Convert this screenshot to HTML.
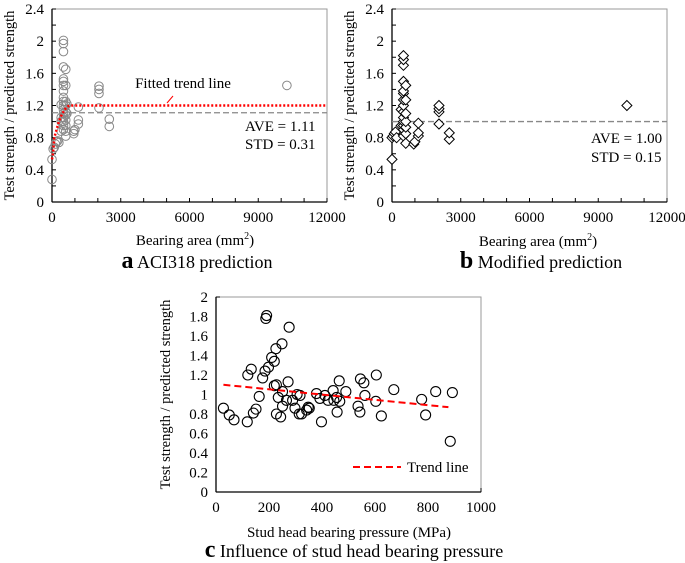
<!DOCTYPE html>
<html><head><meta charset="utf-8"><style>
body{margin:0;background:#fff;}
svg{display:block;font-family:"Liberation Serif",serif;}
</style></head><body>
<svg id="fig" width="685" height="563" viewBox="0 0 685 563" xmlns="http://www.w3.org/2000/svg"></svg>
<script>
// Chart a data (bearing area mm2, ratio)
const aX=[0,0,50,100,150,200,250,300,400,400,400,400,500,500,500,500,500,500,500,500,500,500,500,500,500,500,500,500,500,600,600,600,600,600,600,600,600,600,600,650,650,950,950,1000,1150,1150,1150,2050,2050,2050,2050,2500,2500,10250];
const aY=[0.28,0.53,0.66,0.68,0.72,0.75,0.76,0.74,0.88,1.0,1.05,1.21,0.9,0.95,1.0,1.05,1.1,1.15,1.2,1.25,1.3,1.38,1.45,1.5,1.53,1.68,1.87,1.97,2.01,0.82,0.88,0.95,1.02,1.08,1.12,1.2,1.25,1.45,1.65,1.1,1.22,0.85,0.88,0.9,0.97,1.02,1.18,1.17,1.35,1.4,1.44,0.94,1.03,1.45];
const fitX=[0,50,100,200,300,400,550,700,800,12000];
const fitY=[0.53,0.62,0.8,0.9,1.0,1.07,1.15,1.19,1.2,1.2];
const aAve=1.11;
// Chart b data
const bX=[0,0,50,100,150,200,400,400,500,500,500,500,500,500,500,500,500,500,500,500,500,500,600,600,600,600,600,600,600,950,1000,1150,1150,1150,2050,2050,2050,2050,2500,2500,10250];
const bY=[0.53,0.8,0.82,0.85,0.87,0.8,0.95,1.15,0.82,0.9,0.95,1.0,1.05,1.12,1.2,1.27,1.35,1.38,1.5,1.7,1.77,1.82,0.73,0.85,0.93,1.0,1.1,1.27,1.45,0.72,0.75,0.82,0.86,0.98,0.97,1.12,1.16,1.2,0.78,0.86,1.2];
const bAve=1.0;
// Chart c data (bearing pressure MPa, ratio)
const cX=[28,50,68,118,120,133,141,151,163,176,185,188,191,198,210,220,226,220,228,228,235,244,249,251,251,266,272,276,289,298,306,314,317,323,342,348,352,379,392,398,411,423,442,445,455,457,465,467,490,536,543,545,558,562,605,603,624,671,776,791,829,884,892];
const cY=[0.86,0.79,0.74,0.72,1.2,1.26,0.81,0.85,0.98,1.17,1.24,1.78,1.81,1.28,1.38,1.34,1.47,1.09,1.1,0.8,0.97,0.77,1.52,1.03,0.88,0.94,1.13,1.69,0.94,0.86,1.0,0.8,0.99,0.8,0.84,0.87,0.86,1.01,0.96,0.72,0.99,0.94,1.04,0.94,0.97,0.82,1.14,0.93,1.03,0.88,0.82,1.16,1.12,0.99,1.2,0.93,0.78,1.05,0.95,0.79,1.03,0.52,1.02];
const trendX=[28,877];
const trendY=[1.10,0.87];
const xTicksAB=[0,3000,6000,9000,12000];
const yTicksAB=[0,0.4,0.8,1.2,1.6,2,2.4];
const xTicksC=[0,200,400,600,800,1000];
const yTicksC=[0,0.2,0.4,0.6,0.8,1,1.2,1.4,1.6,1.8,2];

const NS="http://www.w3.org/2000/svg";
const svg=document.getElementById('fig');
function mk(tag,attrs,parent,txt){const e=document.createElementNS(NS,tag);for(const k in attrs)e.setAttribute(k,attrs[k]);if(txt!==undefined)e.textContent=txt;(parent||svg).appendChild(e);return e;}

function chart(cfg){
  const g=mk('g',{});
  
  
  const sx=v=>cfg.x0+(v-cfg.xmin)/(cfg.xmax-cfg.xmin)*(cfg.x1-cfg.x0);
  const sy=v=>cfg.y0-(v-cfg.ymin)/(cfg.ymax-cfg.ymin)*(cfg.y0-cfg.y1);
  cfg.sx=sx;cfg.sy=sy;
  const fr=mk('rect',{x:cfg.x0,y:cfg.y1,width:cfg.x1-cfg.x0,height:cfg.y0-cfg.y1,fill:'none',stroke:'#999','stroke-width':1},g);
  
  mk('line',{x1:cfg.x0,y1:cfg.y0,x2:cfg.x1,y2:cfg.y0,stroke:'#000','stroke-width':1.3},g);
  mk('line',{x1:cfg.x0,y1:cfg.y0,x2:cfg.x0,y2:cfg.y1,stroke:'#000','stroke-width':1.3},g);
  for(let v=cfg.xmin;v<=cfg.xmax+1e-9;v+=cfg.xminor) mk('line',{x1:sx(v),y1:cfg.y0,x2:sx(v),y2:cfg.y0-4,stroke:'#000'},g);
  for(let v=cfg.ymin;v<=cfg.ymax+1e-9;v+=cfg.yminor) mk('line',{x1:cfg.x0,y1:sy(v),x2:cfg.x0+4,y2:sy(v),stroke:'#000'},g);
  cfg.xt.forEach(v=>{const t=mk('text',{x:sx(v),y:cfg.y0+20,'text-anchor':'middle','font-size':15},g,String(v));});
  cfg.yt.forEach(v=>{const t=mk('text',{x:cfg.x0-8,y:sy(v)+5,'text-anchor':'end','font-size':15},g,String(v));});
  const yt=mk('text',{x:0,y:0,transform:`translate(${cfg.ytx},${(cfg.y0+cfg.y1)/2}) rotate(-90)`,'text-anchor':'middle','font-size':14.5},g,'Test strength / predicted strength');
  
  return g;
}

// Chart A
const A={name:'chart-a',x0:52,x1:327,y0:202,y1:9,xmin:0,xmax:12000,ymin:0,ymax:2.4,xminor:1000,yminor:0.2,xt:xTicksAB,yt:yTicksAB,ytx:14};
const ga=chart(A);
let l=mk('line',{x1:A.sx(0),y1:A.sy(aAve),x2:A.x1,y2:A.sy(aAve),stroke:'#888','stroke-width':1.3,'stroke-dasharray':'6,3'},ga);

aX.forEach((x,i)=>{const c=mk('circle',{cx:A.sx(x),cy:A.sy(aY[i]),r:4.3,fill:'none',stroke:'#888','stroke-width':1},ga);

});
const fp=mk('polyline',{points:fitX.map((x,i)=>A.sx(x)+','+A.sy(fitY[i])).join(' '),fill:'none',stroke:'#f00','stroke-width':2.5,'stroke-dasharray':'2,2'},ga);

mk('line',{x1:173,y1:96,x2:167,y2:103,stroke:'#f00','stroke-width':1},ga);
let t=mk('text',{x:183,y:88,'text-anchor':'middle','font-size':15},ga,'Fitted trend line');
t=mk('text',{x:245,y:131,'font-size':15},ga,'AVE = 1.11');
t=mk('text',{x:245,y:149,'font-size':15},ga,'STD = 0.31');
t=mk('text',{x:195,y:245,'text-anchor':'middle','font-size':15},ga);t.innerHTML='Bearing area (mm<tspan font-size="10" dy="-6">2</tspan><tspan dy="6">)</tspan>';
t=mk('text',{x:197,y:268,'text-anchor':'middle','font-size':18},ga);t.innerHTML='<tspan font-weight="bold" font-size="24">a</tspan> ACI318 prediction';

// Chart B
const B={name:'chart-b',x0:392,x1:667,y0:202,y1:9,xmin:0,xmax:12000,ymin:0,ymax:2.4,xminor:1000,yminor:0.2,xt:xTicksAB,yt:yTicksAB,ytx:354};
const gb=chart(B);
l=mk('line',{x1:B.sx(0),y1:B.sy(bAve),x2:B.x1,y2:B.sy(bAve),stroke:'#888','stroke-width':1.3,'stroke-dasharray':'6,3'},gb);

bX.forEach((x,i)=>{const cx=B.sx(x),cy=B.sy(bY[i]);const d=mk('polygon',{points:`${cx},${cy-5} ${cx+5},${cy} ${cx},${cy+5} ${cx-5},${cy}`,fill:'#fff',stroke:'#000','stroke-width':1},gb);

});
t=mk('text',{x:591,y:143,'font-size':15},gb,'AVE = 1.00');
t=mk('text',{x:591,y:162,'font-size':15},gb,'STD = 0.15');
t=mk('text',{x:538,y:246,'text-anchor':'middle','font-size':15},gb);t.innerHTML='Bearing area (mm<tspan font-size="10" dy="-6">2</tspan><tspan dy="6">)</tspan>';
t=mk('text',{x:541,y:268,'text-anchor':'middle','font-size':18},gb);t.innerHTML='<tspan font-weight="bold" font-size="24">b</tspan> Modified prediction';

// Chart C
const C={name:'chart-c',x0:216,x1:481,y0:492,y1:297,xmin:0,xmax:1000,ymin:0,ymax:2,xminor:1000,yminor:2,xt:xTicksC,yt:yTicksC,ytx:170};
const gc=chart(C);
cX.forEach((x,i)=>{const c=mk('circle',{cx:C.sx(x),cy:C.sy(cY[i]),r:5,fill:'none',stroke:'#000','stroke-width':1.1},gc);

});
l=mk('line',{x1:C.sx(trendX[0]),y1:C.sy(trendY[0]),x2:C.sx(trendX[1]),y2:C.sy(trendY[1]),stroke:'#f00','stroke-width':2,'stroke-dasharray':'7,4'},gc);

l=mk('line',{x1:353,y1:467,x2:401,y2:467,stroke:'#f00','stroke-width':2,'stroke-dasharray':'7,4'},gc);

t=mk('text',{x:407,y:472,'font-size':15},gc,'Trend line');
t=mk('text',{x:349,y:537,'text-anchor':'middle','font-size':15},gc,'Stud head bearing pressure (MPa)');
t=mk('text',{x:354,y:557,'text-anchor':'middle','font-size':18},gc);t.innerHTML='<tspan font-weight="bold" font-size="24">c</tspan> Influence of stud head bearing pressure';
</script>
</body></html>
